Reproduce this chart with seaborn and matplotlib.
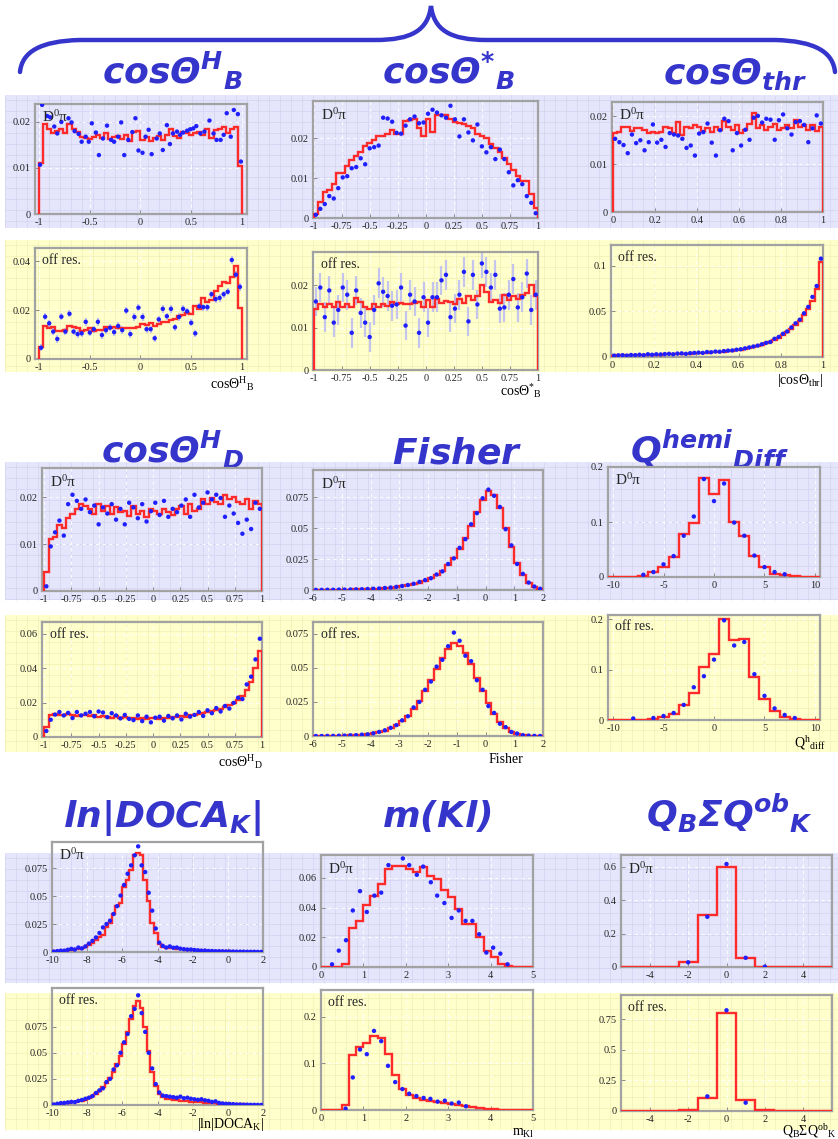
import numpy as np
import matplotlib
matplotlib.use('Agg')
import matplotlib.pyplot as plt
from matplotlib.patches import Rectangle, PathPatch
from matplotlib.path import Path
import seaborn as sns

sns.set_style('white')
plt.rcParams['font.family'] = ['Liberation Serif', 'DejaVu Serif']
plt.rcParams['mathtext.fontset'] = 'custom'
plt.rcParams['mathtext.rm'] = 'Liberation Serif'
plt.rcParams['mathtext.it'] = 'Liberation Serif:italic'
plt.rcParams['mathtext.bf'] = 'DejaVu Sans:bold:italic'

W, H = 838, 1139
RED = '#ff2a2a'
BLUE = '#1f1fff'
TITLE_C = '#3535cc'

# ---------------- data ----------------
# cos theta^H_B, D0 pi
cthB_on_hist = [0.011, 0.0195, 0.0185, 0.0175, 0.018, 0.0185, 0.0175, 0.0195, 0.0185, 0.0178,
                0.0168, 0.0165, 0.0162, 0.0168, 0.0172, 0.0165, 0.0175, 0.0162, 0.0168, 0.017,
                0.0162, 0.0172, 0.0158, 0.0178, 0.018, 0.016, 0.0168, 0.0158, 0.0165, 0.017,
                0.016, 0.0172, 0.0185, 0.017, 0.0165, 0.0178, 0.0175, 0.0172, 0.0175, 0.0178,
                0.0172, 0.0185, 0.0165, 0.0182, 0.0185, 0.019, 0.0175, 0.0185, 0.019, 0.0105]
cthB_on_x = [-0.99, -0.97, -0.92, -0.89, -0.85, -0.82, -0.78, -0.71, -0.68, -0.65, -0.61, -0.58,
             -0.54, -0.51, -0.48, -0.44, -0.41, -0.37, -0.33, -0.29, -0.26, -0.22, -0.19, -0.16,
             -0.12, -0.08, -0.05, -0.02, 0.02, 0.05, 0.08, 0.11, 0.16, 0.19, 0.22, 0.26, 0.29,
             0.32, 0.36, 0.39, 0.42, 0.46, 0.49, 0.52, 0.55, 0.59, 0.63, 0.68, 0.72, 0.75, 0.79,
             0.82, 0.85, 0.89, 0.92, 0.96, 0.99]
cthB_on_pts = [0.0107, 0.0237, 0.0213, 0.021, 0.019, 0.0175, 0.020, 0.0208, 0.0199, 0.018, 0.0174,
               0.0157, 0.0168, 0.0157, 0.0197, 0.0177, 0.0128, 0.0164, 0.0192, 0.0161, 0.0157,
               0.0168, 0.0199, 0.0128, 0.0161, 0.0178, 0.0208, 0.0138, 0.0133, 0.0168, 0.0183,
               0.013, 0.0164, 0.0175, 0.0139, 0.0193, 0.0152, 0.0175, 0.0179, 0.0172, 0.0177,
               0.0181, 0.0184, 0.0186, 0.0191, 0.0175, 0.0179, 0.0203, 0.0175, 0.0161, 0.0161,
               0.0172, 0.0219, 0.0168, 0.0226, 0.0217, 0.0114]

# cos theta*_B, D0 pi
cstar_on_hist = [0.001, 0.004, 0.0065, 0.007, 0.0085, 0.0112, 0.0112, 0.013, 0.0145, 0.0155,
                 0.0165, 0.018, 0.0188, 0.0195, 0.0205, 0.0207, 0.021, 0.022, 0.021, 0.0212,
                 0.0243, 0.0245, 0.0248, 0.0225, 0.0205, 0.025, 0.0215, 0.026, 0.0258, 0.026,
                 0.025, 0.024, 0.0238, 0.0235, 0.0232, 0.0225, 0.021, 0.0205, 0.02, 0.0185,
                 0.0175, 0.0165, 0.015, 0.0135, 0.012, 0.0105, 0.0092, 0.0092, 0.006, 0.0025]
cstar_on_pts = [0.0008, 0.0023, 0.0035, 0.0055, 0.0049, 0.0075, 0.0102, 0.0105, 0.0125, 0.0128,
                0.015, 0.0135, 0.0175, 0.0178, 0.0182, 0.0252, 0.025, 0.0242, 0.0214, 0.0212,
                0.0232, 0.0248, 0.0255, 0.0238, 0.024, 0.0262, 0.0272, 0.0265, 0.0258, 0.0252,
                0.0282, 0.0248, 0.0205, 0.0248, 0.0215, 0.0195, 0.0235, 0.018, 0.0165, 0.0178,
                0.0148, 0.0172, 0.0148, 0.0115, 0.0082, 0.0095, 0.0085, 0.0055, 0.0038, 0.0012]

# cos theta_thr, D0 pi
cthr_on_hist = [0.0165, 0.0168, 0.0178, 0.0178, 0.017, 0.0176, 0.0176, 0.0172, 0.0165, 0.0168,
                0.0165, 0.0168, 0.0178, 0.0175, 0.0165, 0.0188, 0.016, 0.0178, 0.0175, 0.0182,
                0.0178, 0.017, 0.0175, 0.0168, 0.0178, 0.0172, 0.019, 0.0178, 0.0172, 0.0182,
                0.0165, 0.0172, 0.0185, 0.0207, 0.0175, 0.0182, 0.0172, 0.0178, 0.0185, 0.0172,
                0.0175, 0.0182, 0.0175, 0.0192, 0.0178, 0.0182, 0.0172, 0.0182, 0.017, 0.0178]
cthr_on_pts = [0.0153, 0.0146, 0.014, 0.0123, 0.0162, 0.0144, 0.015, 0.0129, 0.0146, 0.0183,
               0.0145, 0.0151, 0.0136, 0.0165, 0.0162, 0.016, 0.0153, 0.0134, 0.0139, 0.0118,
               0.0164, 0.0167, 0.0185, 0.0145, 0.0118, 0.0171, 0.0195, 0.019, 0.0129, 0.0165,
               0.0139, 0.0172, 0.0151, 0.0197, 0.0201, 0.0187, 0.0195, 0.0193, 0.0151, 0.0192,
               0.0204, 0.0175, 0.0162, 0.0188, 0.019, 0.0182, 0.0146, 0.0175, 0.0202, 0.0185]

# cos theta^H_B, off resonance
cthB_off_hist = [0.005, 0.0135, 0.0125, 0.013, 0.0115, 0.0115, 0.012, 0.0135, 0.013, 0.0125,
                 0.0115, 0.012, 0.0125, 0.0115, 0.012, 0.012, 0.0132, 0.0125, 0.013, 0.0125,
                 0.0128, 0.0125, 0.0125, 0.0128, 0.013, 0.0145, 0.0138, 0.0148, 0.0135, 0.0142,
                 0.015, 0.0152, 0.016, 0.0162, 0.0175, 0.0178, 0.019, 0.0185, 0.0215, 0.0205,
                 0.025, 0.0235, 0.024, 0.028, 0.03, 0.0315, 0.031, 0.0335, 0.038, 0.021]
cthB_off_pts = [0.0046, 0.0173, 0.0146, 0.0112, 0.0082, 0.0173, 0.0112, 0.0185, 0.0112, 0.0102,
                0.0105, 0.0152, 0.0108, 0.0122, 0.0152, 0.0098, 0.0118, 0.0128, 0.011, 0.0135,
                0.0118, 0.0198, 0.0102, 0.0172, 0.021, 0.0172, 0.0122, 0.0122, 0.0085, 0.0162,
                0.0205, 0.0175, 0.0205, 0.013, 0.0172, 0.0205, 0.0195, 0.0148, 0.0105, 0.0215,
                0.0212, 0.0212, 0.0265, 0.0245, 0.025, 0.0265, 0.0275, 0.0405, 0.0345, 0.0295]

# cos theta*_B, off resonance
cstar_off_hist = [0.0145, 0.0155, 0.015, 0.0155, 0.0148, 0.016, 0.015, 0.0155, 0.0148, 0.017,
                  0.016, 0.015, 0.0145, 0.0155, 0.0148, 0.0155, 0.0152, 0.016, 0.0155, 0.0158,
                  0.0155, 0.0155, 0.0158, 0.016, 0.015, 0.0165, 0.0148, 0.0168, 0.0158, 0.0162,
                  0.016, 0.0155, 0.0168, 0.0158, 0.0175, 0.0165, 0.0175, 0.0202, 0.0185, 0.016,
                  0.0165, 0.0158, 0.0178, 0.0165, 0.0175, 0.0168, 0.0178, 0.0182, 0.0202, 0.0176]
cstar_off_pts = [0.0162, 0.0195, 0.0125, 0.0188, 0.0112, 0.0142, 0.0195, 0.0178, 0.0088, 0.0188,
                 0.0135, 0.0112, 0.0078, 0.0142, 0.0205, 0.0185, 0.0175, 0.0152, 0.0155, 0.0195,
                 0.0105, 0.0178, 0.0162, 0.0088, 0.0172, 0.0112, 0.0172, 0.0172, 0.0212, 0.0225,
                 0.0125, 0.0145, 0.0178, 0.0232, 0.0115, 0.0225, 0.0155, 0.0252, 0.0232, 0.0195,
                 0.0225, 0.0145, 0.0148, 0.0178, 0.0215, 0.0148, 0.0172, 0.0228, 0.0142, 0.0178]
cstar_off_err = 0.0035

# |cos theta_thr|, off resonance
cthr_off_hist = [0.001, 0.002, 0.002, 0.002, 0.002, 0.002, 0.002, 0.002, 0.0025, 0.0025,
                 0.0025, 0.0025, 0.003, 0.003, 0.003, 0.003, 0.0035, 0.0035, 0.0035, 0.004,
                 0.004, 0.0045, 0.0045, 0.005, 0.005, 0.0055, 0.006, 0.0065, 0.007, 0.0075,
                 0.008, 0.009, 0.01, 0.011, 0.012, 0.0135, 0.015, 0.017, 0.019, 0.021,
                 0.024, 0.027, 0.031, 0.035, 0.04, 0.046, 0.053, 0.062, 0.075, 0.104]
cthr_off_pts = [0.0015, 0.0018, 0.002, 0.0015, 0.0022, 0.002, 0.0025, 0.002, 0.003, 0.0025,
                0.003, 0.0028, 0.0032, 0.0035, 0.003, 0.0038, 0.004, 0.0035, 0.0042, 0.0045,
                0.0048, 0.0045, 0.0055, 0.0052, 0.006, 0.0058, 0.0065, 0.007, 0.0072, 0.008,
                0.0085, 0.0095, 0.0105, 0.0115, 0.0125, 0.014, 0.0155, 0.0165, 0.02, 0.022,
                0.0255, 0.028, 0.0325, 0.037, 0.041, 0.048, 0.055, 0.066, 0.078, 0.108]

# cos theta^H_D, D0 pi
cthD_on_hist = [0.004, 0.011, 0.0115, 0.014, 0.0135, 0.0155, 0.0165, 0.0175, 0.0185, 0.018,
                0.0175, 0.0165, 0.0185, 0.017, 0.018, 0.0165, 0.0178, 0.0168, 0.017, 0.016,
                0.0182, 0.0165, 0.017, 0.0158, 0.0175, 0.017, 0.0165, 0.0175, 0.0168, 0.0162,
                0.0175, 0.018, 0.0165, 0.0185, 0.017, 0.0175, 0.0195, 0.0185, 0.0198, 0.019,
                0.0185, 0.0205, 0.0195, 0.02, 0.019, 0.0185, 0.0195, 0.0175, 0.0192, 0.0185]
cthD_on_pts = [0.001, 0.0095, 0.0125, 0.015, 0.0118, 0.0185, 0.0205, 0.0192, 0.0175, 0.0195,
               0.0168, 0.0182, 0.0142, 0.0178, 0.0165, 0.0185, 0.0152, 0.0175, 0.0142, 0.0188,
               0.0178, 0.0155, 0.0185, 0.0148, 0.017, 0.0188, 0.0162, 0.0192, 0.0158, 0.0175,
               0.0168, 0.0182, 0.0195, 0.0158, 0.0205, 0.0178, 0.0188, 0.021, 0.0195, 0.0205,
               0.0198, 0.0158, 0.0182, 0.0165, 0.0145, 0.0122, 0.0152, 0.0132, 0.0188, 0.0175]

# Fisher, D0 pi
fisher_on_hist = [0.0001, 0.0001, 0.0002, 0.0002, 0.0003, 0.0003, 0.0004, 0.0005, 0.0006, 0.0008,
                  0.001, 0.0012, 0.0015, 0.0019, 0.0024, 0.003, 0.0038, 0.0047, 0.006, 0.0075,
                  0.0095, 0.012, 0.0155, 0.02, 0.026, 0.033, 0.042, 0.052, 0.063, 0.073,
                  0.08, 0.077, 0.066, 0.05, 0.035, 0.022, 0.012, 0.006, 0.0025, 0.001]
fisher_on_pts = [0.0001, 0.0001, 0.0002, 0.0002, 0.0003, 0.0003, 0.0004, 0.0005, 0.0006, 0.0008,
                 0.001, 0.0012, 0.0016, 0.002, 0.0025, 0.0032, 0.004, 0.005, 0.0065, 0.008,
                 0.0095, 0.0125, 0.015, 0.021, 0.0255, 0.034, 0.041, 0.053, 0.062, 0.074,
                 0.081, 0.076, 0.067, 0.049, 0.036, 0.021, 0.013, 0.006, 0.0028, 0.001]

# Q^hemi_Diff, D0 pi
qhemi_on_hist = [0, 0, 0.0005, 0.0025, 0.009, 0.0175, 0.037, 0.078, 0.099, 0.18, 0.151,
                 0.176, 0.1, 0.075, 0.0385, 0.0175, 0.006, 0.003, 0.002, 0, 0]
qhemi_on_x = [-7, -6, -5, -4, -3, -2, -1, 0, 1, 2, 3, 4, 5, 6, 7]
qhemi_on_pts = [0.004, 0.009, 0.023, 0.038, 0.075, 0.11, 0.178, 0.138, 0.17, 0.099, 0.075,
                0.039, 0.018, 0.009, 0.005]

# cos theta^H_D, off resonance
cthD_off_hist = [0.006, 0.0125, 0.0135, 0.013, 0.0125, 0.0135, 0.013, 0.012, 0.0125, 0.013,
                 0.012, 0.0125, 0.0115, 0.012, 0.0118, 0.011, 0.012, 0.0112, 0.0115, 0.0108,
                 0.011, 0.0105, 0.0112, 0.0105, 0.011, 0.0108, 0.0102, 0.0112, 0.011, 0.0115,
                 0.0118, 0.012, 0.0118, 0.0125, 0.013, 0.0135, 0.0138, 0.0145, 0.015, 0.0158,
                 0.0165, 0.0175, 0.0185, 0.02, 0.0215, 0.024, 0.027, 0.032, 0.04, 0.05]
cthD_off_pts = [0.0035, 0.01, 0.013, 0.0145, 0.0125, 0.014, 0.011, 0.0145, 0.0125, 0.0135,
                0.0145, 0.012, 0.0148, 0.0142, 0.0115, 0.0138, 0.0125, 0.0108, 0.0128, 0.0105,
                0.0098, 0.0125, 0.0092, 0.0118, 0.0085, 0.0112, 0.0118, 0.0095, 0.0122, 0.0108,
                0.0125, 0.0102, 0.0135, 0.0118, 0.0128, 0.0145, 0.0122, 0.0155, 0.0138, 0.0168,
                0.0148, 0.018, 0.0165, 0.0198, 0.0228, 0.022, 0.0305, 0.035, 0.045, 0.057]

# Fisher, off resonance
fisher_off_hist = [0, 0, 0.0001, 0.0001, 0.0002, 0.0003, 0.0004, 0.0006, 0.0009, 0.0013,
                   0.0019, 0.0028, 0.004, 0.0058, 0.0082, 0.0112, 0.015, 0.02, 0.026, 0.033,
                   0.041, 0.049, 0.057, 0.064, 0.068, 0.066, 0.061, 0.053, 0.043, 0.033,
                   0.024, 0.016, 0.01, 0.006, 0.0032, 0.0016, 0.0007, 0.0003, 0.0001, 0]
fisher_off_pts = [0, 0, 0.0001, 0.0001, 0.0002, 0.0003, 0.0005, 0.0006, 0.001, 0.0012,
                  0.002, 0.003, 0.0042, 0.006, 0.008, 0.0115, 0.0145, 0.021, 0.025, 0.034,
                  0.04, 0.051, 0.056, 0.066, 0.076, 0.07, 0.059, 0.055, 0.041, 0.034,
                  0.022, 0.017, 0.009, 0.0065, 0.003, 0.0018, 0.0006, 0.0003, 0.0001, 0]

# Q^h_diff, off resonance
qhemi_off_hist = [0, 0, 0, 0, 0.002, 0.005, 0.011, 0.029, 0.053, 0.106, 0.132,
                  0.2, 0.158, 0.16, 0.085, 0.042, 0.018, 0.0066, 0.002, 0, 0]
qhemi_off_x = [-8, -6, -5, -4, -3, -2, -1, 0, 1, 2, 3, 4, 5, 6, 7, 8]
qhemi_off_pts = [0.003, 0.004, 0.008, 0.014, 0.03, 0.065, 0.087, 0.12, 0.198, 0.148, 0.155,
                 0.091, 0.048, 0.023, 0.01, 0.004]

# ln|DOCA_K|, D0 pi
doca_on_hist = [0.0005, 0.0008, 0.001, 0.0013, 0.0016, 0.002, 0.0025, 0.003, 0.0035, 0.0045,
                0.0065, 0.008, 0.011, 0.013, 0.0155, 0.0225, 0.026, 0.034, 0.041, 0.044,
                0.058, 0.0645, 0.0735, 0.0865, 0.089, 0.0865, 0.0645, 0.046, 0.026, 0.0174,
                0.0069, 0.0045, 0.004, 0.0035, 0.0032, 0.003, 0.0027, 0.0024, 0.0021, 0.0019,
                0.0017, 0.0015, 0.0013, 0.0012, 0.001, 0.0009, 0.0008, 0.0007, 0.0006, 0.0005,
                0.0005, 0.0004, 0.0004, 0.0003, 0.0003, 0.0002, 0.0002, 0.0002, 0.0001, 0.0001]
doca_on_pts = [0.0004, 0.0008, 0.0012, 0.0012, 0.002, 0.0028, 0.0022, 0.004, 0.0032, 0.005,
               0.0075, 0.01, 0.013, 0.017, 0.022, 0.025, 0.028, 0.034, 0.041, 0.0505,
               0.06, 0.07, 0.0775, 0.0865, 0.0945, 0.0775, 0.0715, 0.053, 0.037, 0.021,
               0.0084, 0.0055, 0.004, 0.005, 0.0038, 0.004, 0.003, 0.0025, 0.0022, 0.0022,
               0.0018, 0.0015, 0.0012, 0.0013, 0.0009, 0.0009, 0.0007, 0.0007, 0.0006, 0.0005,
               0.0004, 0.0004, 0.0003, 0.0003, 0.0003, 0.0002, 0.0002, 0.0002, 0.0001, 0.0001]

# m(Kl), D0 pi
mkl_on_hist = [0, 0, 0, 0.002, 0.026, 0.031, 0.042, 0.048, 0.056, 0.066, 0.068, 0.068, 0.066,
               0.064, 0.067, 0.061, 0.059, 0.052, 0.047, 0.039, 0.029, 0.029, 0.02, 0.011,
               0.0065, 0.0018, 0.0005, 0, 0, 0]
mkl_on_x = [0.26, 0.42, 0.59, 0.75, 0.92, 1.08, 1.26, 1.42, 1.59, 1.93, 2.08, 2.26, 2.41, 2.59,
            2.74, 2.91, 3.08, 3.25, 3.41, 3.57, 3.73, 3.9, 4.06, 4.23, 4.4]
mkl_on_pts = [0.0018, 0.011, 0.018, 0.038, 0.051, 0.037, 0.048, 0.05, 0.0685, 0.073, 0.0685,
              0.062, 0.0675, 0.057, 0.048, 0.043, 0.033, 0.038, 0.031, 0.031, 0.022, 0.0097,
              0.013, 0.009, 0.0018]

# Q_B Sum Q^ob_K, D0 pi
qb_on_hist = [0, 0, 0, 0.032, 0.31, 0.6, 0.054, 0.002, 0, 0, 0]
qb_on_x = [-2, -1, 0, 1, 2]
qb_on_pts = [0.028, 0.3, 0.615, 0.055, 0.002]

# ln|DOCA_K|, off resonance
doca_off_hist = [0.0008, 0.001, 0.0013, 0.0016, 0.002, 0.0025, 0.003, 0.0036, 0.0043, 0.0052,
                 0.0065, 0.0082, 0.0105, 0.0135, 0.017, 0.021, 0.026, 0.032, 0.039, 0.047,
                 0.058, 0.07, 0.082, 0.095, 0.1, 0.093, 0.075, 0.052, 0.032, 0.018,
                 0.011, 0.0075, 0.0062, 0.0055, 0.005, 0.0046, 0.0042, 0.0038, 0.0035, 0.0032,
                 0.003, 0.0027, 0.0025, 0.0022, 0.002, 0.0018, 0.0016, 0.0014, 0.0012, 0.001,
                 0.0009, 0.0008, 0.0007, 0.0006, 0.0005, 0.0004, 0.0003, 0.0003, 0.0002, 0.0002]
doca_off_pts = [0.0005, 0.0012, 0.0018, 0.002, 0.0025, 0.003, 0.0028, 0.004, 0.0048, 0.006,
                0.007, 0.0085, 0.0115, 0.014, 0.016, 0.022, 0.025, 0.034, 0.038, 0.05,
                0.06, 0.068, 0.085, 0.092, 0.105, 0.088, 0.07, 0.05, 0.035, 0.02,
                0.012, 0.009, 0.0085, 0.008, 0.0075, 0.007, 0.008, 0.0065, 0.007, 0.006,
                0.0055, 0.005, 0.0055, 0.0045, 0.004, 0.003, 0.0035, 0.002, 0.0015, 0.0012,
                0.001, 0.0008, 0.0005, 0.0005, 0.0003, 0.0003, 0.0002, 0.0002, 0.0001, 0.0001]

# m(Kl), off resonance
mkl_off_hist = [0, 0, 0, 0.01, 0.118, 0.135, 0.145, 0.16, 0.155, 0.12, 0.075, 0.045, 0.032,
                0.026, 0.022, 0.02, 0.018, 0.016, 0.013, 0.011, 0.009, 0.007, 0.005, 0.003,
                0.0015, 0.0005, 0, 0, 0, 0]
mkl_off_x = [0.58, 0.75, 0.92, 1.08, 1.25, 1.42, 1.58, 1.75, 1.92, 2.08, 2.25, 2.42, 2.58,
             2.75, 2.92, 3.08, 3.25, 3.42]
mkl_off_pts = [0.003, 0.07, 0.13, 0.12, 0.17, 0.148, 0.095, 0.06, 0.045, 0.035, 0.03, 0.026,
               0.024, 0.018, 0.02, 0.014, 0.016, 0.008]

# Q_B Sum Q^ob_K, off resonance
qb_off_hist = [0, 0, 0, 0.005, 0.11, 0.8, 0.088, 0.005, 0, 0, 0]
qb_off_x = [-1, 0, 1]
qb_off_pts = [0.12, 0.825, 0.068]

# tick sets
X_COS5 = ([-1, -0.5, 0, 0.5, 1], ['-1', '-0.5', '0', '0.5', '1'])
X_COS9 = ([-1, -0.75, -0.5, -0.25, 0, 0.25, 0.5, 0.75, 1],
          ['-1', '-0.75', '-0.5', '-0.25', '0', '0.25', '0.5', '0.75', '1'])
X_THR = ([0, 0.2, 0.4, 0.6, 0.8, 1], ['0', '0.2', '0.4', '0.6', '0.8', '1'])
X_FISH = ([-6, -5, -4, -3, -2, -1, 0, 1, 2], ['-6', '-5', '-4', '-3', '-2', '-1', '0', '1', '2'])
X_QH = ([-10, -5, 0, 5, 10], ['-10', '-5', '0', '5', '10'])
X_DOCA = ([-10, -8, -6, -4, -2, 0, 2], ['-10', '-8', '-6', '-4', '-2', '0', '2'])
X_MKL = ([0, 1, 2, 3, 4, 5], ['0', '1', '2', '3', '4', '5'])
X_QB = ([-4, -2, 0, 2, 4], ['-4', '-2', '0', '2', '4'])
Y_001 = ([0, 0.01, 0.02], ['0', '0.01', '0.02'])
Y_002 = ([0, 0.02, 0.04], ['0', '0.02', '0.04'])
Y_0025 = ([0, 0.025, 0.05, 0.075], ['0', '0.025', '0.05', '0.075'])
Y_005 = ([0, 0.05, 0.1], ['0', '0.05', '0.1'])
Y_01 = ([0, 0.1, 0.2], ['0', '0.1', '0.2'])
Y_0026 = ([0, 0.02, 0.04, 0.06], ['0', '0.02', '0.04', '0.06'])
Y_02 = ([0, 0.2, 0.4, 0.6], ['0', '0.2', '0.4', '0.6'])
Y_025 = ([0, 0.25, 0.5, 0.75], ['0', '0.25', '0.5', '0.75'])

TAG_ON = r'$\mathrm{D^{0}\pi}$'
TAG_OFF = 'off res.'

fig = plt.figure(figsize=(W / 100, H / 100), dpi=100)

# ---------------- page background (bands, brace, titles) ----------------
bg = fig.add_axes([0, 0, 1, 1])
bg.set_xlim(0, W)
bg.set_ylim(H, 0)
bg.axis('off')

LAV, LAV_G = '#e5e5fb', '#d3d3f3'
YEL, YEL_G = '#ffffcc', '#efefb4'
bands = [(95, 228, LAV, LAV_G), (240, 372, YEL, YEL_G),
         (462, 600, LAV, LAV_G), (615, 752, YEL, YEL_G),
         (853, 983, LAV, LAV_G), (993, 1130, YEL, YEL_G)]
for t, b, c, gc in bands:
    bg.add_patch(Rectangle((5, t), W - 5, b - t, facecolor=c, lw=0, zorder=0))
    bg.vlines(np.arange(5, W, 11), t, b, color=gc, lw=0.5, zorder=1)
    bg.hlines(np.arange(t + 5, b, 11), 5, W, color=gc, lw=0.5, zorder=1)

brace_v = [(20, 72), (22, 52), (40, 41), (80, 40), (375, 40), (412, 40), (428, 30), (431, 6),
           (434, 30), (450, 40), (487, 40), (775, 40), (815, 41), (833, 52), (835, 72)]
brace_c = [Path.MOVETO, Path.CURVE4, Path.CURVE4, Path.CURVE4, Path.LINETO,
           Path.CURVE4, Path.CURVE4, Path.CURVE4, Path.CURVE4, Path.CURVE4, Path.CURVE4,
           Path.LINETO, Path.CURVE4, Path.CURVE4, Path.CURVE4]
bg.add_patch(PathPatch(Path(brace_v, brace_c), facecolor='none', edgecolor=TITLE_C,
                       lw=3.2, capstyle='round', zorder=2))

titles = [(172, 84, r'$\mathbf{cos\Theta^{H}{}_{B}}$'),
          (449, 84, r'$\mathbf{cos\Theta^{*}{}_{B}}$'),
          (735, 84, r'$\mathbf{cos\Theta_{thr}}$'),
          (173, 463, r'$\mathbf{cos\Theta^{H}{}_{D}}$'),
          (457, 463, r'$\mathbf{Fisher}$'),
          (709, 463, r'$\mathbf{Q^{hemi}{}_{Diff}}$'),
          (162, 827, r'$\mathbf{ln|DOCA_{K}|}$'),
          (437, 827, r'$\mathbf{m(Kl)}$'),
          (730, 827, r'$\mathbf{Q_{B}\Sigma Q^{ob}{}_{K}}$')]
for x, y, s in titles:
    bg.text(x, y, s, ha='center', va='baseline', fontsize=26, color=TITLE_C, zorder=3)

xlabels = [(254, 389, r'$\mathrm{cos\Theta^{H}{}_{B}}$'),
           (542, 396, r'$\mathrm{cos\Theta^{*}{}_{B}}$'),
           (823, 384, r'$\mathrm{|cos\Theta_{thr}|}$'),
           (263, 767, r'$\mathrm{cos\Theta^{H}{}_{D}}$'),
           (523, 763, 'Fisher'),
           (826, 747, r'$\mathrm{Q^{h}{}_{diff}}$'),
           (264, 1128, r'$\mathrm{|ln|DOCA_{K}|}$'),
           (535, 1136, r'$\mathrm{m_{Kl}}$'),
           (836, 1136, r'$\mathrm{Q_{B}\Sigma Q^{ob}{}_{K}}$')]
for x, y, s in xlabels:
    bg.text(x, y, s, ha='right', va='baseline', fontsize=10, color='black', zorder=3)


def draw_panel(box, hist, hrange, pts, px, xlim, ylim, xt, yt, tag, err=None):
    l, t, r, b = box
    ax = fig.add_axes([l / W, 1 - b / H, (r - l) / W, (b - t) / H])
    ax.set_facecolor('none')
    edges = np.linspace(hrange[0], hrange[1], len(hist) + 1)
    if px is None:
        step = (hrange[1] - hrange[0]) / len(pts)
        px = hrange[0] + step * (np.arange(len(pts)) + 0.5)
    px = np.asarray(px, dtype=float)
    py = np.asarray(pts, dtype=float)
    if err is not None:
        ax.vlines(px, py - err, py + err, color='#c4c4ec', lw=1.6, zorder=2)
    ax.stairs(hist, edges, baseline=0, color=RED, lw=1.7, zorder=3)
    sns.scatterplot(x=px, y=py, ax=ax, color=BLUE, s=10, edgecolor='none',
                    zorder=4, legend=False)
    ax.set_xlim(*xlim)
    ax.set_ylim(*ylim)
    ax.set_xticks(xt[0])
    ax.set_xticklabels(xt[1])
    ax.set_yticks(yt[0])
    ax.set_yticklabels(yt[1])
    ax.set_xlabel('')
    ax.set_ylabel('')
    ax.grid(True, color='white', lw=0.8, ls=(0, (3, 3)), alpha=0.9)
    ax.set_axisbelow(True)
    for sp in ax.spines.values():
        sp.set_color('#a2a2a2')
        sp.set_linewidth(1.6)
    ax.tick_params(direction='in', length=3, width=0.7, color='#8a8a8a',
                   labelsize=7.5, pad=3, left=True, bottom=True)
    ax.text(0.035, 0.95, tag, transform=ax.transAxes, ha='left', va='top',
            fontsize=11 if tag == TAG_ON else 10, zorder=5)
    return ax


# row 1
draw_panel((35, 104, 247, 214), cthB_on_hist, (-1, 1), cthB_on_pts, cthB_on_x,
           (-1.04, 1.05), (0, 0.0239), X_COS5, Y_001, TAG_ON)
draw_panel((313, 101, 538, 218), cstar_on_hist, (-1, 1), cstar_on_pts, None,
           (-1.005, 1.0), (0, 0.0294), X_COS9, Y_001, TAG_ON)
draw_panel((612, 102, 823, 212), cthr_on_hist, (0, 1), cthr_on_pts, None,
           (-0.005, 1.0), (0, 0.023), X_THR, Y_001, TAG_ON)
draw_panel((35, 248, 247, 359), cthB_off_hist, (-1, 1), cthB_off_pts, None,
           (-1.04, 1.05), (0, 0.0454), X_COS5, Y_002, TAG_OFF, err=0.0015)
draw_panel((313, 252, 538, 370), cstar_off_hist, (-1, 1), cstar_off_pts, None,
           (-1.005, 1.0), (0, 0.0279), X_COS9, Y_001, TAG_OFF, err=cstar_off_err)
draw_panel((611, 245, 823, 357), cthr_off_hist, (0, 1), cthr_off_pts, None,
           (-0.005, 1.0), (0, 0.123), X_THR, Y_005, TAG_OFF)
# row 2
draw_panel((42, 468, 262, 591), cthD_on_hist, (-1, 1), cthD_on_pts, None,
           (-1.02, 1.0), (0, 0.0262), X_COS9, Y_001, TAG_ON)
draw_panel((313, 470, 543, 590), fisher_on_hist, (-6, 2), fisher_on_pts, None,
           (-6, 2), (0, 0.0968), X_FISH, Y_0025, TAG_ON)
draw_panel((608, 467, 820, 577), qhemi_on_hist, (-10.5, 10.5), qhemi_on_pts, qhemi_on_x,
           (-10.5, 10.5), (0, 0.2), X_QH, Y_01, TAG_ON)
draw_panel((42, 622, 262, 737), cthD_off_hist, (-1, 1), cthD_off_pts, None,
           (-1.02, 1.0), (0, 0.0667), X_COS9, Y_0026, TAG_OFF)
draw_panel((313, 622, 543, 736), fisher_off_hist, (-6, 2), fisher_off_pts, None,
           (-6, 2), (0, 0.0838), X_FISH, Y_0025, TAG_OFF)
draw_panel((608, 615, 820, 720), qhemi_off_hist, (-10.5, 10.5), qhemi_off_pts, qhemi_off_x,
           (-10.5, 10.5), (0, 0.2086), X_QH, Y_01, TAG_OFF)
# row 3
draw_panel((52, 842, 263, 952), doca_on_hist, (-10, 2), doca_on_pts, None,
           (-10, 2), (0, 0.0984), X_DOCA, Y_0025, TAG_ON)
draw_panel((321, 855, 533, 967), mkl_on_hist, (0, 5), mkl_on_pts, mkl_on_x,
           (0, 5), (0, 0.0753), X_MKL, Y_0026, TAG_ON)
draw_panel((621, 855, 832, 967), qb_on_hist, (-5.5, 5.5), qb_on_pts, qb_on_x,
           (-5.5, 5.5), (0, 0.669), X_QB, Y_02, TAG_ON)
draw_panel((52, 988, 263, 1105), doca_off_hist, (-10, 2), doca_off_pts, None,
           (-10, 2), (0, 0.112), X_DOCA, Y_0025, TAG_OFF)
draw_panel((321, 990, 533, 1110), mkl_off_hist, (0, 5), mkl_off_pts, mkl_off_x,
           (0, 5), (0, 0.258), X_MKL, Y_01, TAG_OFF)
draw_panel((621, 995, 832, 1111), qb_off_hist, (-5.5, 5.5), qb_off_pts, qb_off_x,
           (-5.5, 5.5), (0, 0.95), X_QB, Y_025, TAG_OFF)

fig.savefig('out.png', dpi=100)
